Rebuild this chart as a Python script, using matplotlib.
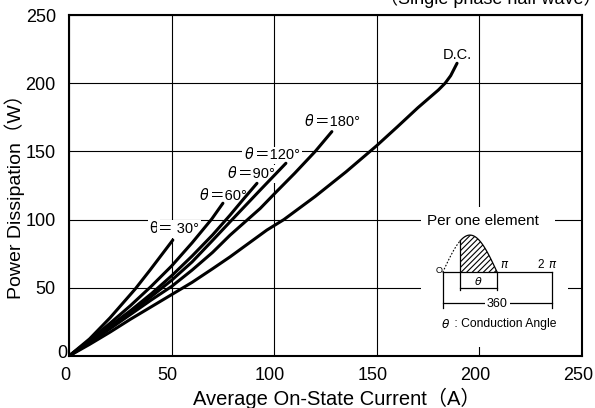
import numpy as np
import matplotlib
matplotlib.use("Agg")
import matplotlib.pyplot as plt
import matplotlib.transforms as mtransforms
from matplotlib.patches import Rectangle

plt.rcParams['font.family'] = ['Liberation Sans', 'Noto Sans CJK JP', 'DejaVu Sans']
plt.rcParams['hatch.linewidth'] = 0.8
plt.rcParams['mathtext.fontset'] = 'dejavusans'

# ---------------- data ----------------
cur_30 = [0, 10, 20, 32.2, 39.5, 50.6]
pow_30 = [0, 12.5, 28, 49, 63, 85]
cur_60 = [0, 10, 20, 30, 40, 50, 60, 69.6, 75]
pow_60 = [0, 11.5, 24, 37, 51, 66, 83, 100.5, 112]
cur_90 = [0, 10, 20, 30, 40, 50, 60, 70, 78.5, 85, 91.6]
pow_90 = [0, 11, 22, 33.3, 45.5, 58.8, 73.3, 88.8, 103.3, 115, 126.6]
cur_120 = [0, 10, 20, 30, 40, 50, 60, 70, 78.5, 93.2, 100.8, 105.7]
pow_120 = [0, 10.3, 21, 32, 43.5, 55.5, 69, 84.8, 98.4, 121.7, 133.6, 141.3]
cur_180 = [0, 10, 20, 30, 40, 50, 60, 70, 78.5, 93.2, 100.8, 110, 120, 128.1]
pow_180 = [0, 9.5, 20, 30.5, 41, 51, 63, 76, 88.6, 108.2, 120, 134, 150, 164.5]
cur_dc = [0, 10, 20, 30, 40, 50, 60, 70, 78.5, 96.4, 104.7, 120, 135, 149.8, 160, 170,
          180, 183.3, 186, 189.1]
pow_dc = [0, 8.5, 17.5, 27, 36, 45, 54, 64, 72.7, 92.3, 100, 117, 135, 154, 168, 182,
          195, 200, 205.5, 214.6]

x_ticks = [0, 50, 100, 150, 200, 250]
y_ticks = [0, 50, 100, 150, 200, 250]

xlabel = 'Average On-State Current（A）'
ylabel = 'Power Dissipation（W）'
title = '（Single phase half wave）'

# ---------------- figure ----------------
W, H = 595, 408
fig = plt.figure(figsize=(W / 100, H / 100), dpi=100)
L, R, T, B = 69, 582, 15, 356
ax = fig.add_axes([L / W, 1 - B / H, (R - L) / W, (B - T) / H])
ax.set_xlim(0, 250)
ax.set_ylim(0, 250)
ax.set_xticks(x_ticks)
ax.set_yticks(y_ticks)
ax.set_xticklabels([str(v) for v in x_ticks])
ax.set_yticklabels([str(v) for v in y_ticks])
ax.grid(True, color='black', linewidth=0.8, zorder=1)
ax.set_axisbelow(True)
ax.tick_params(axis='both', length=0, labelsize=13)
ax.tick_params(axis='x', pad=8)
ax.tick_params(axis='y', pad=9.5)
for s in ax.spines.values():
    s.set_linewidth(1.5)
    s.set_zorder(6)

# shift tick labels like the reference
for lab in ax.get_xticklabels():
    lab.set_transform(lab.get_transform() +
                      mtransforms.ScaledTranslation(-4 / 100, 0, fig.dpi_scale_trans))
ylabs = ax.get_yticklabels()
ylabs[0].set_transform(ylabs[0].get_transform() +
                       mtransforms.ScaledTranslation(12 / 100, 5 / 100, fig.dpi_scale_trans))

ax.set_xlabel(xlabel, fontsize=14.5)
ax.set_ylabel(ylabel, fontsize=14)
ax.xaxis.set_label_coords(0.522, -0.094)
ax.yaxis.set_label_coords(-0.086, 0.482)

fig.text(491 / W, 1 - 4 / H, title, ha='center', va='baseline', fontsize=13)

lw = 2.2
for xs, ys in [(cur_30, pow_30), (cur_60, pow_60), (cur_90, pow_90),
               (cur_120, pow_120), (cur_180, pow_180), (cur_dc, pow_dc)]:
    ax.plot(xs, ys, color='black', linewidth=lw, solid_capstyle='round', zorder=5)

box = dict(boxstyle='square,pad=0.12', facecolor='white', edgecolor='none')


def theta_label(axx, x, y, rest, fs, italic=True):
    if italic:
        axx.text(x, y, r'$\theta$', ha='right', va='baseline', fontsize=fs, bbox=box, zorder=4)
    else:
        axx.text(x, y, 'θ', ha='right', va='baseline', fontsize=fs, bbox=box, zorder=4,
                 family=['DejaVu Sans'])
    axx.text(x, y, rest, ha='left', va='baseline', fontsize=fs, bbox=box, zorder=4)


fs_lab = 10.5
theta_label(ax, 43.5, 90.1, '＝ 30°', fs_lab, italic=False)
theta_label(ax, 68.7, 114.3, '＝60°', fs_lab)
theta_label(ax, 82.4, 130.5, '＝90°', fs_lab)
theta_label(ax, 90.6, 144.1, '＝120°', fs_lab)
theta_label(ax, 119.9, 168.6, '＝180°', fs_lab)
ax.text(189.3, 217.8, 'D.C.', ha='center', va='baseline', fontsize=fs_lab, zorder=4)

# ---------------- inset diagram ----------------
ix0, ix1, iy0, iy1 = 421, 568, 228, 347
ins = fig.add_axes([ix0 / W, 1 - iy1 / H, (ix1 - ix0) / W, (iy1 - iy0) / H])
ins.set_facecolor('white')
ins.set_xlim(-1.25, 7.22)
ins.set_ylim(-2.0, 1.19)
ins.set_xticks([])
ins.set_yticks([])
for s in ins.spines.values():
    s.set_visible(False)
ins.add_patch(Rectangle((-1.25, 1.19), 7.72, 0.56, facecolor='white', edgecolor='none',
                        clip_on=False, zorder=0))
ins.text(2.29, 1.375, 'Per one element', ha='center', va='center', fontsize=11, clip_on=False)

ilw = 0.9
alpha = 1.0
two_pi = 2 * np.pi
ph_d = np.linspace(0, alpha, 40)
ph_s = np.linspace(alpha, np.pi, 80)
ins.plot(ph_d, np.sin(ph_d), color='black', lw=0.8, linestyle=(0, (1.5, 1.5)))
ins.fill_between(ph_s, 0, np.sin(ph_s), facecolor='white', edgecolor='black',
                 hatch='//////', linewidth=0)
ins.plot(ph_s, np.sin(ph_s), color='black', lw=ilw)
# base line and dimension lines
ins.plot([0, two_pi], [0, 0], color='black', lw=ilw)
ins.plot([0, 0], [0, -0.965], color='black', lw=ilw)
ins.plot([two_pi, two_pi], [0, -0.965], color='black', lw=ilw)
ins.plot([0, two_pi], [-0.83, -0.83], color='black', lw=ilw)
ins.text(np.pi, -0.84, '360', ha='center', va='center', fontsize=9,
         bbox=dict(boxstyle='square,pad=0.15', facecolor='white', edgecolor='none'))
ins.plot([alpha, alpha], [np.sin(alpha), -0.47], color='black', lw=ilw)
ins.plot([np.pi, np.pi], [0, -0.47], color='black', lw=ilw)
ins.plot([alpha, np.pi], [-0.43, -0.43], color='black', lw=ilw)
ins.text((alpha + np.pi) / 2, -0.24, r'$\theta$', ha='center', va='center', fontsize=8)
ins.text(3.56, 0.2, r'$\pi$', ha='center', va='center', fontsize=8.5)
ins.text(6.05, 0.2, '2 ', ha='right', va='center', fontsize=8.5)
ins.text(6.05, 0.2, r'$\pi$', ha='left', va='center', fontsize=8.5)
ins.text(-0.23, 0.05, 'O', ha='center', va='center', fontsize=6.5)
ins.text(0.45, -1.39, r'$\theta$', ha='right', va='center', fontsize=8.7)
ins.text(0.45, -1.39, ' : Conduction Angle', ha='left', va='center', fontsize=8.7)

fig.savefig('out.png', dpi=100)
